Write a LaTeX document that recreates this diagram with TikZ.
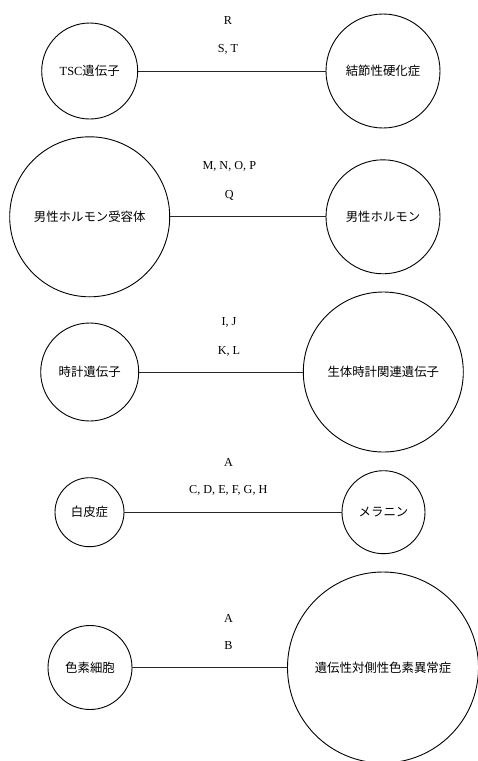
\documentclass[tikz,border=0pt]{standalone}
\usepackage{fontspec}
\setmainfont{Liberation Serif}
\newfontfamily\cjk{Noto Sans CJK JP}
\begin{document}
\begin{tikzpicture}[x=1pt,y=-1pt,
  ent/.style={draw=black,line width=0.9pt,circle,inner sep=0pt,font=\fontsize{12.4}{14}\cjk},
  rel/.style={font=\fontsize{12.2}{14}\selectfont,inner sep=0pt},
  link/.style={draw=black!85,line width=1pt}]
\useasboundingbox (0,0) rectangle (478,761);
% row 1
\node[ent,minimum size=96pt] (a1) at (89.7,71) {{\rmfamily TSC}遺伝子};
\node[ent,minimum size=114pt] (b1) at (383,71) {結節性硬化症};
\draw[link] (a1) -- (b1);
\node[rel] (l1a) at (228,20.7) {R};
\node[rel] (l1b) at (228,49) {S, T};
% row 2
\node[ent,minimum size=160pt] (a2) at (89.7,216.8) {男性ホルモン受容体};
\node[ent,minimum size=114pt] (b2) at (383,216.8) {男性ホルモン};
\draw[link] (a2) -- (b2);
\node[rel] (l2a) at (229.3,166.7) {M, N, O, P};
\node[rel] (l2b) at (229.3,195.7) {Q};
% row 3
\node[ent,minimum size=98pt] (a3) at (89.7,372) {時計遺伝子};
\node[ent,minimum size=160pt] (b3) at (383.3,372) {生体時計関連遺伝子};
\draw[link] (a3) -- (b3);
\node[rel] (l3a) at (229,322.3) {I, J};
\node[rel] (l3b) at (229,351) {K, L};
% row 4
\node[ent,minimum size=69pt] (a4) at (89.5,512.2) {白皮症};
\node[ent,minimum size=83pt] (b4) at (383.5,512.2) {メラニン};
\draw[link] (a4) -- (b4);
\node[rel] (l4a) at (228.5,462.7) {A};
\node[rel] (l4b) at (228.3,490.7) {C, D, E, F, G, H};
% row 5
\node[ent,minimum size=84pt] (a5) at (90,667.5) {色素細胞};
\node[ent,minimum size=191pt] (b5) at (383,667.5) {遺伝性対側性色素異常症};
\draw[link] (a5) -- (b5);
\node[rel] (l5a) at (228.5,618.3) {A};
\node[rel] (l5b) at (228.5,646) {B};
\end{tikzpicture}
\end{document}
